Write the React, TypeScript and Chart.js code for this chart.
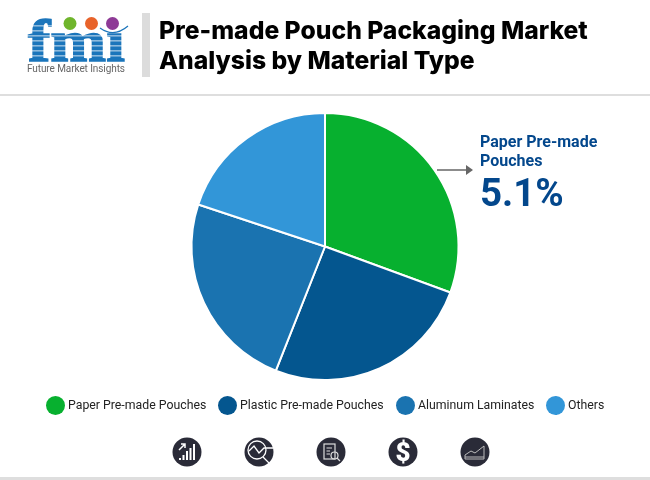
import { useEffect, useRef } from 'react';
import { Chart, registerables } from 'chart.js';

Chart.register(...registerables);

const categories = ['Paper Pre-made Pouches', 'Plastic Pre-made Pouches', 'Aluminum Laminates', 'Others'];
const shares = [30.6, 25.4, 24.1, 19.9];
const colors = ['#07b02f', '#04568f', '#1a73b0', '#3296d8'];
const legendLefts = [46, 218, 396, 546];
const titleLines = ['Pre-made Pouch Packaging Market', 'Analysis by Material Type'];
const calloutLines = ['Paper Pre-made', 'Pouches'];
const calloutValue = '5.1%';
const iconLefts = [172, 244, 316, 388, 460];

const FONT = 'Roboto, sans-serif';

function abs(left: number, top: number, extra: React.CSSProperties = {}): React.CSSProperties {
  return { position: 'absolute', left, top, whiteSpace: 'nowrap', ...extra };
}

function Logo() {
  return (
    <svg style={abs(24, 14)} width={108} height={62} viewBox="0 0 108 62">
      <text x="4" y="47" fontFamily="'Liberation Serif', serif" fontWeight="700" fontSize="60" fill="#1b75bb" stroke="#1b75bb" strokeWidth="1.4" textLength="97" lengthAdjust="spacingAndGlyphs">fmi</text>
      {[11, 16, 21, 26, 31, 36, 41].map((y) => (
        <rect key={y} x="0" y={y + 0.5} width="108" height="0.8" fill="#fff" />
      ))}
      <rect x="40" y="0" width="68" height="17" fill="#fff" />
      <circle cx="46" cy="9.500" r="6.500" fill="#6fb52c" />
      <circle cx="67.500" cy="9.500" r="6.500" fill="#e8632a" />
      <circle cx="88.500" cy="9.500" r="6.500" fill="#8e3a96" />
      <path d="M76 14 Q90 24 104 12" fill="none" stroke="#1b75bb" strokeWidth="1.200" />
      <text x="3" y="58" fontFamily={FONT} fontSize="10" fill="#666" textLength="98">Future Market Insights</text>
    </svg>
  );
}

function Icon({ left, index }: { left: number; index: number }) {
  const glyphs = [
    <g key="0" stroke="#fff" fill="none">
      <path d="M8 23V21M11.500 23V18M15 23V14M18.500 23V11M22 23V7" strokeWidth="2" />
      <path d="M7 13L13 7M9 7H13V11" strokeWidth="1.500" />
    </g>,
    <g key="1" stroke="#fff" fill="none" strokeWidth="1.300">
      <circle cx="13" cy="13" r="9" />
      <path d="M5 14L10 9L15 16L20 11H29M19 20L26 27" />
    </g>,
    <g key="2" stroke="#ddd" fill="none" strokeWidth="1.200">
      <rect x="8" y="7" width="11" height="15" />
      <path d="M10.500 11H16M10.500 14H14M10.500 17H14" />
      <circle cx="18.500" cy="18.500" r="3.500" />
      <path d="M21 21L24 24" />
    </g>,
    <text key="3" x="15" y="24" textAnchor="middle" fontFamily={FONT} fontWeight="900" fontSize="26" fill="#fff">$</text>,
    <g key="4" stroke="#bbb" fill="none" strokeWidth="1">
      <path d="M5 18L11 14L15 16L24 9V22H5Z" />
      <path d="M5 20H24" />
    </g>,
  ];
  return (
    <svg style={abs(left, 437)} width={30} height={30} viewBox="0 0 30 30">
      <circle cx="15" cy="15" r="14.500" fill="#2a2b38" />
      {glyphs[index]}
    </svg>
  );
}

export default function App() {
  const canvasRef = useRef<HTMLCanvasElement>(null);

  useEffect(() => {
    if (!canvasRef.current) return;
    const chart = new Chart(canvasRef.current, {
      type: 'pie',
      data: {
        labels: categories,
        datasets: [{ data: shares, backgroundColor: colors, borderColor: '#fff', borderWidth: 2 }],
      },
      options: {
        responsive: false,
        animation: false,
        layout: { padding: { top: 112, bottom: 99, left: 0, right: 0 } },
        plugins: { legend: { display: false }, tooltip: { enabled: false } },
      },
    });
    return () => chart.destroy();
  }, []);

  return (
    <div style={{ position: 'absolute', left: 0, top: 0, width: 650, height: 480, background: '#fff', overflow: 'hidden', fontFamily: FONT }}>
      <canvas ref={canvasRef} width={650} height={480} style={{ position: 'absolute', left: 0, top: 0 }} />
      <Logo />
      <div style={abs(142, 13, { width: 8, height: 64, background: '#dcdcdc' })} />
      {titleLines.map((line, i) => (
        <div key={line} style={abs(159, 15 + i * 30, { fontFamily: 'Inter, sans-serif', fontSize: 24.7, lineHeight: '30px', fontWeight: 800, color: '#000' })}>{line}</div>
      ))}
      <div style={abs(0, 94, { width: 650, height: 2, background: '#dedede' })} />
      <div style={abs(0, 477, { width: 650, height: 3, background: '#dedede' })} />

      {calloutLines.map((line, i) => (
        <div key={line} style={abs(480, 132 + i * 19, { fontSize: 16, lineHeight: '19px', fontWeight: 700, color: '#03478c' })}>{line}</div>
      ))}
      <div style={abs(480, 170, { fontSize: 38.5, lineHeight: '46px', fontWeight: 700, color: '#03478c' })}>{calloutValue}</div>
      <svg style={abs(435, 162)} width={40} height={16}>
        <path d="M2 8H34" stroke="#666" strokeWidth="1.500" />
        <path d="M31 3L38 8L31 13Z" fill="#666" />
      </svg>

      {categories.map((name, i) => (
        <div key={name} style={abs(legendLefts[i], 396, { display: 'flex', alignItems: 'center', fontSize: 12.3, lineHeight: '19px', color: '#222' })}>
          <span style={{ width: 19, height: 19, borderRadius: '50%', background: colors[i], marginRight: 3 }} />
          {name}
        </div>
      ))}

      {iconLefts.map((left, i) => (
        <Icon key={left} left={left} index={i} />
      ))}
    </div>
  );
}
